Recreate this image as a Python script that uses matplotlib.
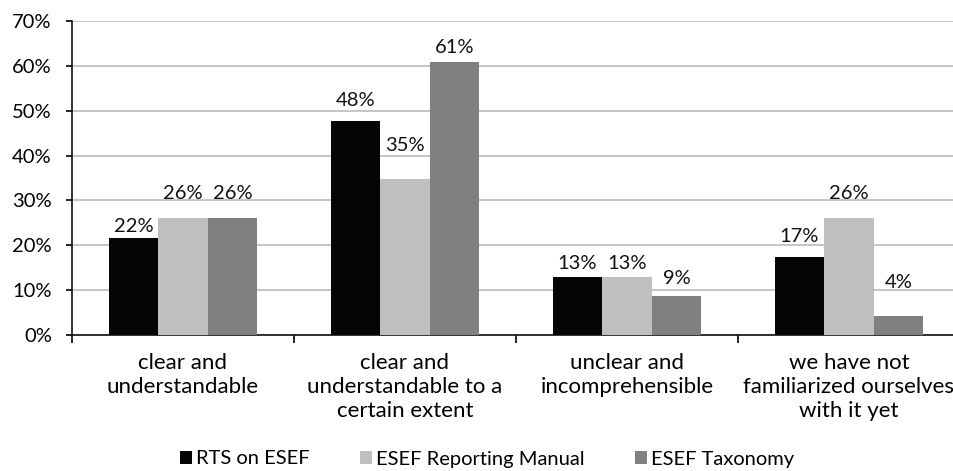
import numpy as np
import matplotlib
matplotlib.use("Agg")
import matplotlib.pyplot as plt
from matplotlib.ticker import PercentFormatter, FixedLocator

# data
categories = [
    "clear and\nunderstandable",
    "clear and\nunderstandable to a\ncertain extent",
    "unclear and\nincomprehensible",
    "we have not\nfamiliarized ourselves\nwith it yet",
]
series_names = ["RTS on ESEF", "ESEF Reporting Manual", "ESEF Taxonomy"]
rts = [21.7, 47.8, 13.0, 17.4]
manual = [26.1, 34.8, 13.0, 26.1]
taxonomy = [26.1, 60.9, 8.7, 4.3]
labels_rts = ["22%", "48%", "13%", "17%"]
labels_manual = ["26%", "35%", "13%", "26%"]
labels_taxonomy = ["26%", "61%", "9%", "4%"]

colors = ["#050505", "#bfbfbf", "#808080"]
# gap between bar top and label baseline, in pixels (as placed in the original)
label_gaps = [[6, 15, 8, 15], [19, 28, 8, 19], [19, 9, 12, 28]]

plt.rcParams["font.family"] = ["Lato", "DejaVu Sans"]
plt.rcParams["font.size"] = 14.5

fig = plt.figure(figsize=(9.54, 4.71), dpi=100)
ax = fig.add_axes([72 / 954, 136 / 471, 888 / 954, 314 / 471])

x = np.arange(len(categories))
width = 0.223
all_vals = [rts, manual, taxonomy]
all_labels = [labels_rts, labels_manual, labels_taxonomy]
for i, (vals, labs) in enumerate(zip(all_vals, all_labels)):
    pos = x + (i - 1) * width
    ax.bar(pos, vals, width, color=colors[i], label=series_names[i], zorder=3)
    for px, v, lab, gap in zip(pos, vals, labs, label_gaps[i]):
        ax.annotate(lab, (px, v), xytext=(0, gap), textcoords="offset pixels",
                    ha="center", va="baseline", color="#111111")

ax.set_xlim(-0.5, len(categories) - 0.5)
ax.set_ylim(0, 70)
ax.yaxis.set_major_locator(FixedLocator(np.arange(0, 71, 10)))
ax.yaxis.set_major_formatter(PercentFormatter(decimals=0))
ax.grid(axis="y", color="#c0c0c0", linewidth=1.3, zorder=0)
ax.set_axisbelow(True)

ax.set_xticks(x)
ax.set_xticklabels(categories, linespacing=1.25, fontsize=16)
ax.set_xticks(np.arange(-0.5, len(categories), 1), minor=True)
ax.tick_params(axis="x", which="major", length=0, pad=13)
ax.tick_params(axis="x", which="minor", length=5.5, width=1.2, direction="out")
ax.tick_params(axis="y", length=4.5, width=1.2, pad=10)

for s in ["top", "right"]:
    ax.spines[s].set_visible(False)
for s in ["left", "bottom"]:
    ax.spines[s].set_linewidth(1.2)
    ax.spines[s].set_color("#111111")

fig.legend(loc="center", bbox_to_anchor=(487 / 954, 1 - 459 / 471), ncol=3,
           frameon=False, handlelength=0.6, handleheight=0.6,
           handletextpad=0.2, columnspacing=2.5, borderaxespad=0)

fig.savefig("out.png", dpi=100)
